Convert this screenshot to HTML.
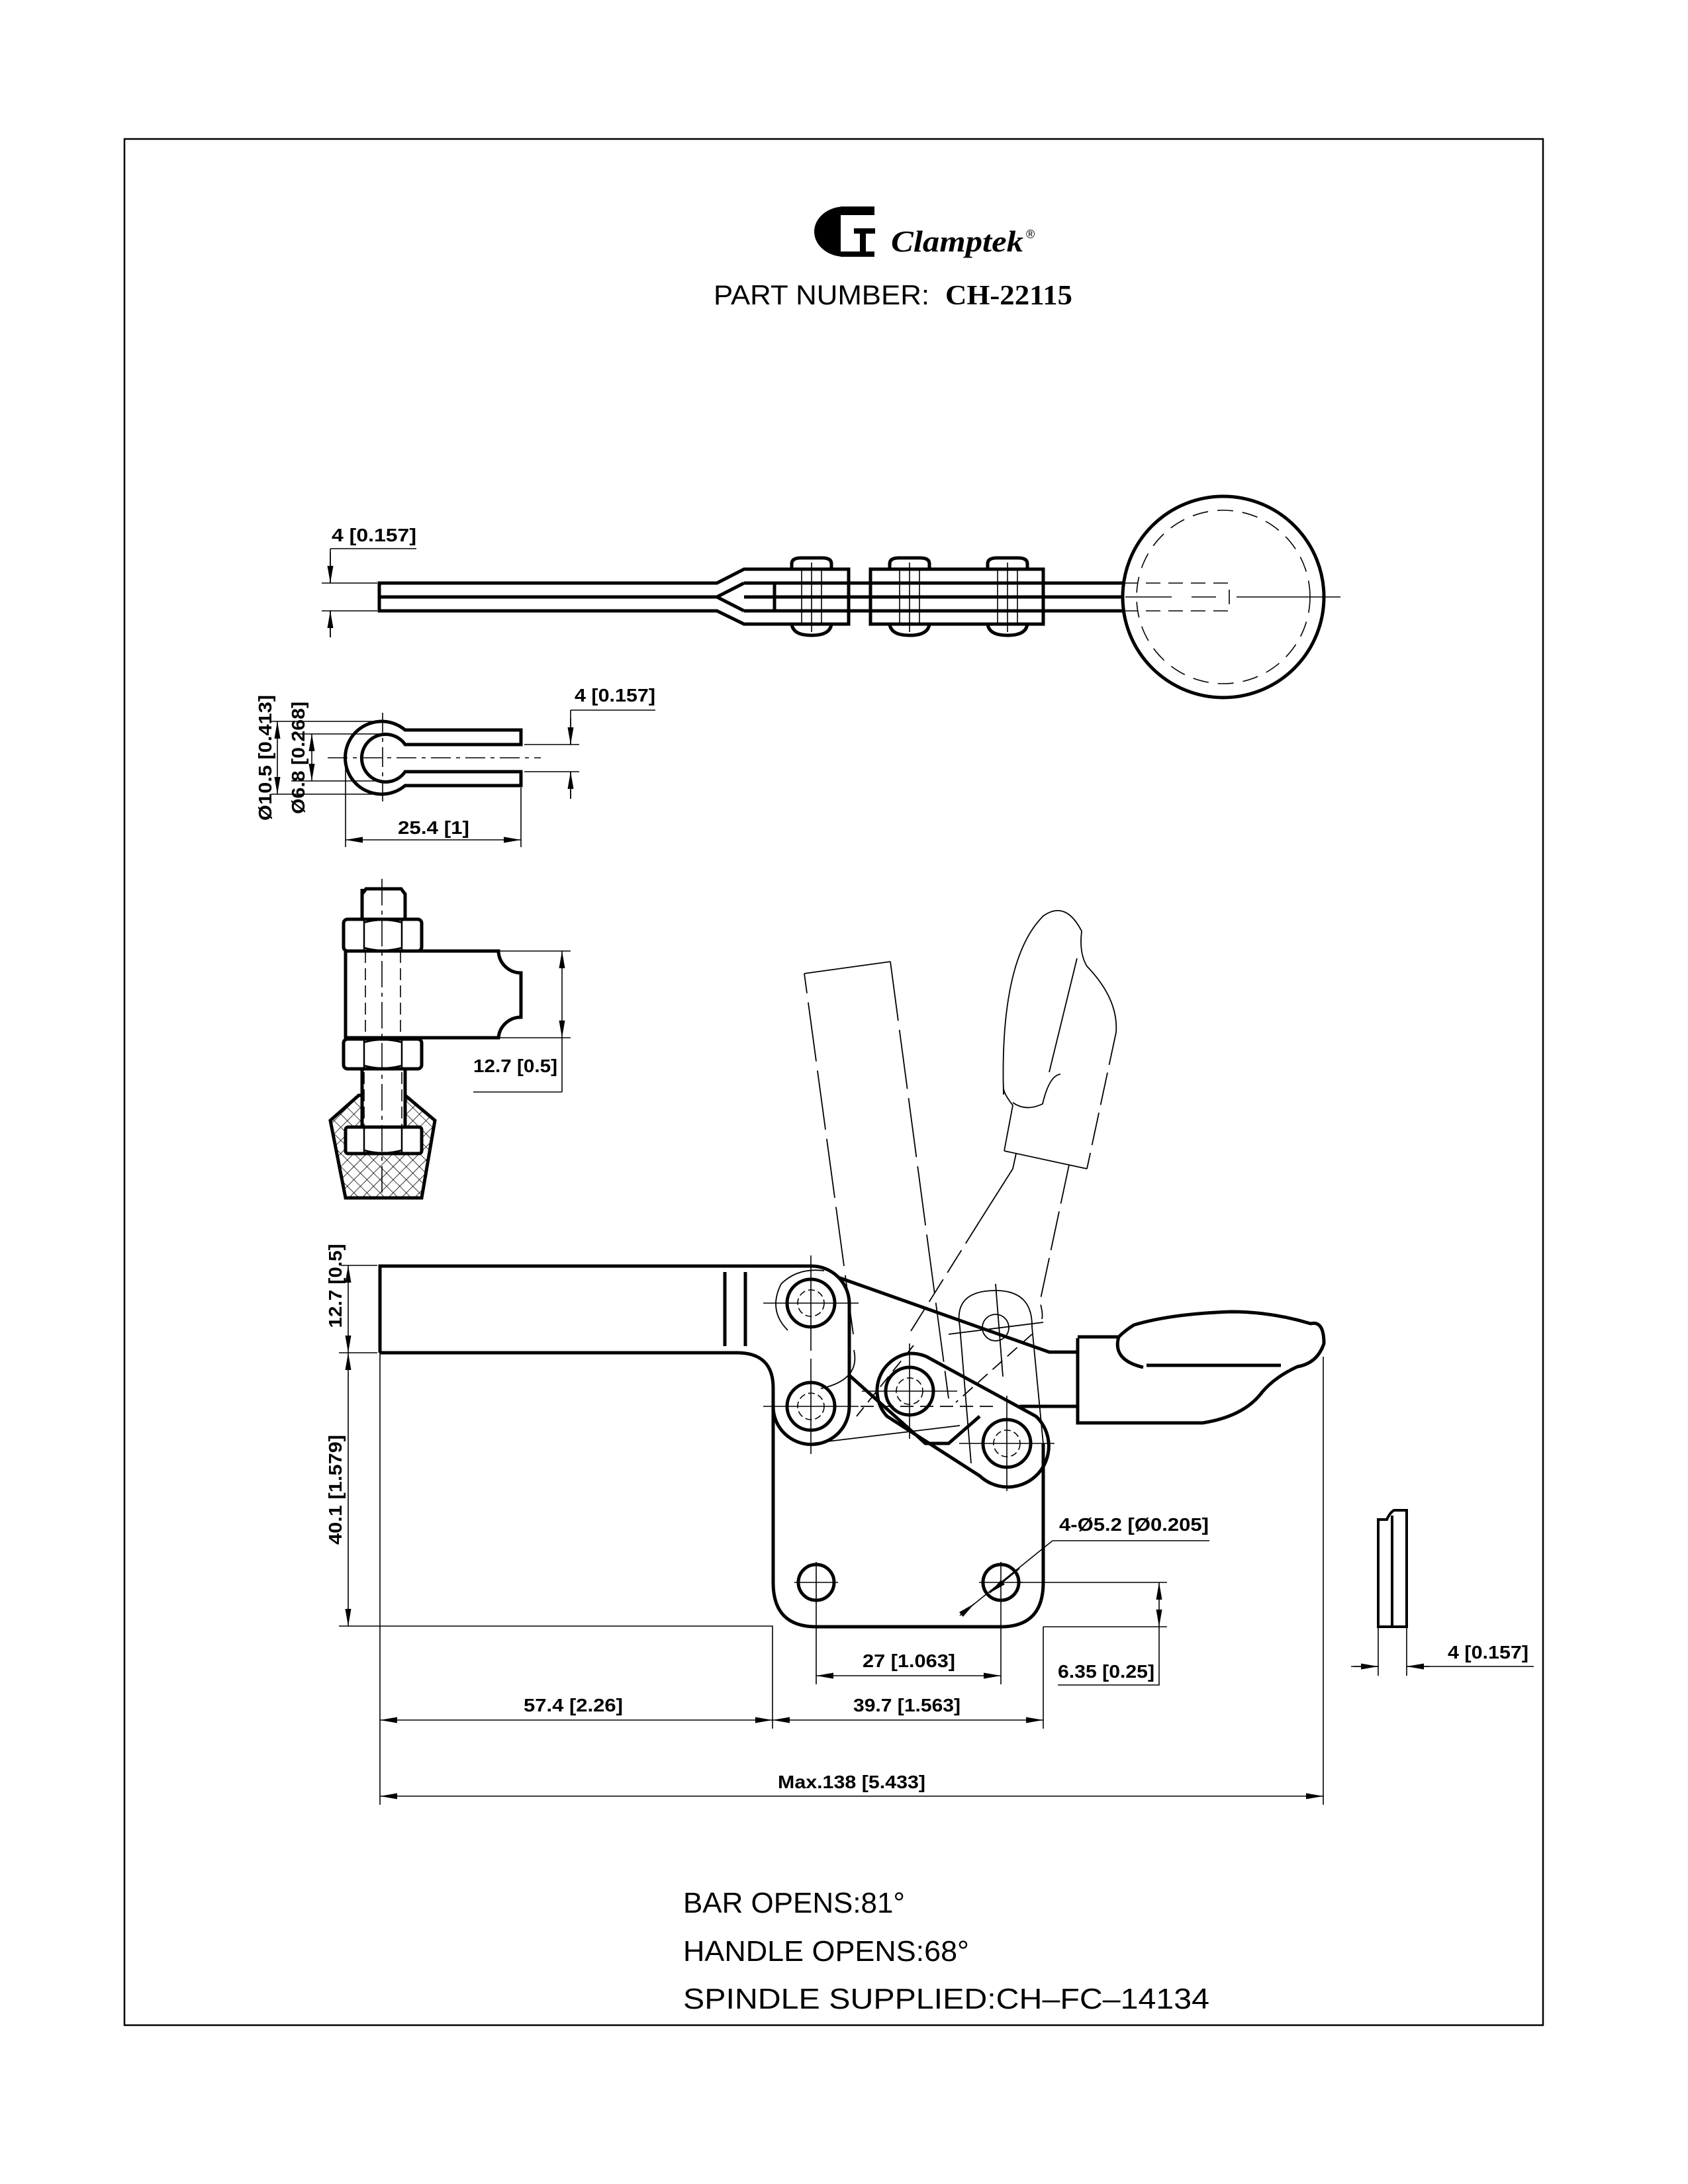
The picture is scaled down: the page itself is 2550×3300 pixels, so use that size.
<!DOCTYPE html>
<html><head><meta charset="utf-8"><style>html,body{margin:0;padding:0;background:#fff}svg{display:block}</style></head>
<body>
<svg xmlns="http://www.w3.org/2000/svg" width="2550" height="3300" viewBox="0 0 2550 3300">
<defs>
<marker id="a" viewBox="0 0 10 10" refX="10" refY="5" markerWidth="26" markerHeight="9" markerUnits="userSpaceOnUse" orient="auto-start-reverse" preserveAspectRatio="none"><path d="M0,0 L10,5 L0,10z" fill="#000"/></marker>
<pattern id="h" width="14" height="14" patternUnits="userSpaceOnUse" patternTransform="rotate(45)"><path d="M0,0 H14 M0,0 V14" stroke="#000" stroke-width="1.6"/></pattern>
</defs>
<rect width="2550" height="3300" fill="#fff"/>
<rect x="188" y="210" width="2143" height="2850" fill="none" stroke="#000" stroke-width="2.5"/>

<!-- logo -->
<ellipse cx="1276" cy="350" rx="46" ry="38" fill="#000"/>
<rect x="1270" y="325" width="56" height="55" fill="#fff"/>
<rect x="1270" y="312" width="51" height="13" fill="#000"/>
<rect x="1270" y="380" width="51" height="8" fill="#000"/>
<rect x="1290" y="345" width="32" height="8" fill="#000"/>
<rect x="1299" y="352" width="9" height="28" fill="#000"/>
<text x="1346" y="380" font-family="Liberation Serif, serif" font-weight="bold" font-style="italic" font-size="46" textLength="200" lengthAdjust="spacingAndGlyphs">Clamptek</text>
<text x="1550" y="360" font-family="Liberation Sans, sans-serif" font-size="18">®</text>
<text x="1078" y="460" font-family="Liberation Sans, sans-serif" font-size="42" textLength="326" lengthAdjust="spacingAndGlyphs">PART NUMBER:</text>
<text x="1428" y="460" font-family="Liberation Serif, serif" font-weight="bold" font-size="42" textLength="192" lengthAdjust="spacingAndGlyphs">CH-22115</text>

<g font-family="Liberation Sans, sans-serif" font-weight="bold" font-size="28" fill="#000">
<!-- TOP VIEW -->
<g stroke="#000" fill="none">
<g stroke-width="5">
<path d="M573,881 H1083 L1124,860 H1282 V943 H1124 L1083,923 H573 Z"/>
<path d="M573,902 H1083 L1124,881 M1083,902 L1124,923"/>
<path d="M1124,881 H1697 M1124,902 H1697 M1124,923 H1697"/>
<path d="M1170,881 V923"/>
<path d="M1315,860 H1576 V943 H1315 Z"/>
<path d="M1196,860 V852 Q1196,843 1210,843 H1242 Q1256,843 1256,852 V860 M1196,943 Q1198,960 1226,960 Q1254,960 1256,943"/>
<path d="M1344,860 V852 Q1344,843 1358,843 H1390 Q1404,843 1404,852 V860 M1344,943 Q1346,960 1374,960 Q1402,960 1404,943"/>
<path d="M1492,860 V852 Q1492,843 1506,843 H1538 Q1552,843 1552,852 V860 M1492,943 Q1494,960 1522,960 Q1550,960 1552,943"/>
<circle cx="1848" cy="902" r="152"/>
</g>
<g stroke-width="1.6">
<path d="M1211,860 V943 M1241,860 V943 M1359,860 V943 M1389,860 V943 M1507,860 V943 M1537,860 V943"/>
<path d="M1226,850 V955 M1374,850 V955 M1522,850 V955"/>
<circle cx="1848" cy="902" r="131" stroke-dasharray="24,14"/>
<path d="M1697,881 H1857 V923 H1697" stroke-dasharray="22,12"/>
<path d="M1700,902 H1770 M1800,902 H1837 M1868,902 H2025"/>
<path d="M486,881 H570 M486,923 H570 M499,829 V881 M499,923 V963 M499,829 H629"/>
<path d="M499,835 V881" marker-end="url(#a)"/>
<path d="M499,963 V923" marker-end="url(#a)"/>
</g>
</g>
<text x="501" y="818" textLength="128" lengthAdjust="spacingAndGlyphs">4 [0.157]</text>

<!-- CLIP VIEW -->
<g stroke="#000" fill="none">
<path d="M612,1103 A55,55 0 1 0 612,1187 H787 V1166 H612 A36,36 0 1 1 612,1125 H787 V1103 Z" stroke-width="5"/>
<g stroke-width="1.6">
<path d="M495,1145 H817" stroke-dasharray="30,8,6,8"/>
<path d="M578,1077 V1215" stroke-dasharray="30,8,6,8"/>
<path d="M410,1090 H578 M440,1109 H578 M440,1180 H578 M410,1200 H578"/>
<path d="M419,1145 V1090" marker-end="url(#a)"/><path d="M419,1145 V1200" marker-end="url(#a)"/>
<path d="M471,1145 V1109" marker-end="url(#a)"/><path d="M471,1145 V1180" marker-end="url(#a)"/>
<path d="M522,1145 V1280 M787,1190 V1280"/>
<path d="M655,1269 H522" marker-end="url(#a)"/><path d="M655,1269 H787" marker-end="url(#a)"/>
<path d="M792,1125 H875 M792,1166 H875 M862,1073 H990 M862,1073 V1125 M862,1166 V1207"/>
<path d="M862,1085 V1125" marker-end="url(#a)"/><path d="M862,1207 V1166" marker-end="url(#a)"/>
</g>
</g>
<text transform="translate(410,1145) rotate(-90)" text-anchor="middle" textLength="190" lengthAdjust="spacingAndGlyphs">Ø10.5 [0.413]</text>
<text transform="translate(460,1145) rotate(-90)" text-anchor="middle" textLength="170" lengthAdjust="spacingAndGlyphs">Ø6.8 [0.268]</text>
<text x="655" y="1260" text-anchor="middle" textLength="108" lengthAdjust="spacingAndGlyphs">25.4 [1]</text>
<text x="868" y="1060" textLength="122" lengthAdjust="spacingAndGlyphs">4 [0.157]</text>

<!-- SPINDLE VIEW -->
<polygon points="542,1655 499,1693 522,1810 637,1810 657,1693 612,1655" fill="url(#h)" stroke="#000" stroke-width="5"/>
<g stroke="#000" fill="#fff" stroke-width="5">
<rect x="547" y="1615" width="65" height="90"/>
<path d="M547,1343 V1351 L553,1343 H606 L612,1351 V1389 H547 Z"/>
<path d="M522,1437 H753 A34,34 0 0 0 787,1470 V1537 A34,34 0 0 0 753,1568 H522 Z" fill="#fff"/>
<rect x="519" y="1389" width="118" height="48" rx="6"/>
<rect x="519" y="1570" width="118" height="45" rx="6"/>
<rect x="522" y="1703" width="115" height="40" rx="4"/>
</g>
<g stroke="#000" fill="none" stroke-width="2.5">
<path d="M550,1389 V1437 M607,1389 V1437 M550,1570 V1615 M607,1570 V1615 M550,1703 V1743 M607,1703 V1743"/>
<path d="M550,1394 Q578,1386 607,1394 M550,1432 Q578,1440 607,1432 M550,1575 Q578,1567 607,1575 M550,1610 Q578,1618 607,1610 M550,1738 Q578,1746 607,1738"/>
</g>
<g stroke="#000" fill="none" stroke-width="1.6">
<path d="M552,1437 V1568 M605,1437 V1568 M550,1620 V1703 M607,1620 V1703" stroke-dasharray="18,8"/>
<path d="M577,1328 V1812" stroke-dasharray="40,8,6,8"/>
<path d="M753,1437 H862 M753,1568 H862 M715,1650 H849 M849,1568 V1650"/>
<path d="M849,1500 V1437" marker-end="url(#a)"/><path d="M849,1500 V1568" marker-end="url(#a)"/>
</g>
<text x="715" y="1620" textLength="127" lengthAdjust="spacingAndGlyphs">12.7 [0.5]</text>

<!-- MAIN SIDE VIEW : phantom (thin) -->
<g stroke="#000" fill="none" stroke-width="1.8">
<path d="M1215,1471 L1345,1453"/>
<path d="M1289,2016 L1215,1471 M1345,1453 L1433,2113" stroke-dasharray="90,14"/>
<path d="M1516,1654 Q1510,1450 1576,1384 Q1610,1360 1634,1407 Q1630,1440 1642,1460 Q1690,1510 1686,1560 M1517,1739 L1530,1670 Q1514,1650 1516,1640 M1642,1766 L1517,1739"/>
<path d="M1686,1560 L1642,1766" stroke-dasharray="50,12"/>
<path d="M1530,1666 Q1550,1680 1575,1668 Q1585,1625 1602,1623 M1585,1620 L1627,1448"/>
<path d="M1535,1743 L1530,1766 L1480,1845" />
<path d="M1480,1845 L1373,2016" stroke-dasharray="40,12"/>
<path d="M1615,1760 L1571,1967 Q1576,1985 1574,1993" stroke-dasharray="60,12"/>
<path d="M1450,2005 Q1440,1950 1504,1950 Q1560,1950 1559,2005 L1576,2182 M1450,2005 L1467,2211"/>
<circle cx="1504" cy="2006" r="20"/>
<path d="M1433,2016 L1576,1998 M1504,1940 L1515,2080"/>
<path d="M1225,2181 L1450,2154 M1240,2098 Q1300,2085 1290,2040 M1190,2010 Q1160,1980 1180,1940 Q1205,1915 1245,1920"/>
<path d="M1559,2016 L1444,2119 M1380,2033 L1294,2140 M1300,2125 H1500" stroke-dasharray="20,10"/>
</g>

<!-- main bold outlines -->
<g stroke="#000" fill="none" stroke-width="5">
<path d="M574,2044 V1913 H1226 A57,57 0 0 1 1283,1969 V2125 A57,57 0 0 1 1168,2125"/>
<path d="M574,2044 H1113 Q1168,2044 1168,2097 V2391 Q1168,2458 1233,2458 H1512 Q1576,2458 1576,2391 V2181"/>
<path d="M1095,1922 V2034 M1126,1922 V2034"/>
<path d="M1266,1930 L1585,2043 H1628"/>
<path d="M1628,2022 V2150 H1817 Q1880,2140 1907,2103 Q1927,2080 1960,2065 Q1990,2060 2000,2030 Q2000,1995 1980,2000 Q1920,1982 1860,1982 Q1770,1985 1713,2002 Q1700,2010 1690,2020 H1628"/>
<path d="M1690,2020 Q1680,2055 1727,2066 M1732,2063 H1935"/>
<path d="M1540,2125 H1628"/>
<path d="M1374,2045 A57,57 0 0 0 1340,2140 L1480,2230 A57,57 0 0 0 1565,2140 L1400,2050 A57,57 0 0 0 1374,2045 Z"/>
<path d="M1284,2079 L1398,2181 H1433 L1480,2140"/>
<circle cx="1233" cy="2391" r="27"/><circle cx="1512" cy="2391" r="27"/>
</g>
<g stroke="#000" fill="none">
<g stroke-width="5">
<circle cx="1225" cy="1969" r="36"/><circle cx="1225" cy="2125" r="36"/>
<circle cx="1374" cy="2102" r="36"/><circle cx="1521" cy="2181" r="36"/>
</g>
<g stroke-width="1.6">
<circle cx="1225" cy="1969" r="20" stroke-dasharray="10,5"/><circle cx="1225" cy="2125" r="20" stroke-dasharray="10,5"/>
<circle cx="1374" cy="2102" r="20" stroke-dasharray="10,5"/><circle cx="1521" cy="2181" r="20" stroke-dasharray="10,5"/>
<path d="M1153,1969 H1297 M1225,1897 V2041 M1153,2125 H1297 M1225,2053 V2197 M1302,2102 H1446 M1374,2030 V2174 M1449,2181 H1593 M1521,2109 V2253"/>
<path d="M1200,2391 H1266 M1233,2360 V2458 M1479,2391 H1545 M1512,2360 V2458"/>
</g>
</g>

<!-- dims main -->
<g stroke="#000" fill="none" stroke-width="1.6">
<path d="M515,1912 H570 M512,2044 H570 M512,2457 H1168"/>
<path d="M526,1978 V1912" marker-end="url(#a)"/><path d="M526,1978 V2044" marker-end="url(#a)"/>
<path d="M526,2250 V2044" marker-end="url(#a)"/><path d="M526,2250 V2457" marker-end="url(#a)"/>
<path d="M574,2044 V2727 M1167,2458 V2612 M1576,2458 V2612 M1233,2458 V2545 M1512,2458 V2545 M1999,2050 V2727"/>
<path d="M870,2599 H574" marker-end="url(#a)"/><path d="M870,2599 H1167" marker-end="url(#a)"/>
<path d="M1370,2599 H1167" marker-end="url(#a)"/><path d="M1370,2599 H1576" marker-end="url(#a)"/>
<path d="M1373,2532 H1233" marker-end="url(#a)"/><path d="M1373,2532 H1512" marker-end="url(#a)"/>
<path d="M1290,2714 H574" marker-end="url(#a)"/><path d="M1290,2714 H1999" marker-end="url(#a)"/>
<path d="M1540,2391 H1763 M1576,2458 H1763 M1751,2458 V2546 H1598"/>
<path d="M1751,2420 V2391" marker-end="url(#a)"/><path d="M1751,2420 V2458" marker-end="url(#a)"/>
<path d="M1460,2433 L1590,2328 H1827"/>
<path d="M1540,2370 L1495,2407" marker-end="url(#a)"/><path d="M1472,2423 L1450,2441" marker-start="url(#a)"/>
<path d="M2082,2458 V2532 M2125,2458 V2532 M2041,2518 H2082 M2125,2518 H2317"/>
<path d="M2045,2518 H2082" marker-end="url(#a)"/><path d="M2160,2518 H2125" marker-end="url(#a)"/>
</g>
<g stroke="#000" fill="none" stroke-width="4">
<path d="M2082,2458 V2296 H2095 Q2100,2285 2106,2282 H2125 V2458 Z M2103,2290 V2458"/>
</g>
<text transform="translate(516,1943) rotate(-90)" text-anchor="middle" textLength="127" lengthAdjust="spacingAndGlyphs">12.7 [0.5]</text>
<text transform="translate(516,2251) rotate(-90)" text-anchor="middle" textLength="166" lengthAdjust="spacingAndGlyphs">40.1 [1.579]</text>
<text x="1600" y="2313" textLength="226" lengthAdjust="spacingAndGlyphs">4-Ø5.2 [Ø0.205]</text>
<text x="1598" y="2535" textLength="146" lengthAdjust="spacingAndGlyphs">6.35 [0.25]</text>
<text x="1373" y="2519" text-anchor="middle" textLength="140" lengthAdjust="spacingAndGlyphs">27 [1.063]</text>
<text x="1370" y="2586" text-anchor="middle" textLength="162" lengthAdjust="spacingAndGlyphs">39.7 [1.563]</text>
<text x="866" y="2586" text-anchor="middle" textLength="150" lengthAdjust="spacingAndGlyphs">57.4 [2.26]</text>
<text x="1175" y="2702" textLength="223" lengthAdjust="spacingAndGlyphs">Max.138 [5.433]</text>
<text x="2187" y="2506" textLength="122" lengthAdjust="spacingAndGlyphs">4 [0.157]</text>
</g>

<g font-family="Liberation Sans, sans-serif" font-size="44" fill="#000">
<text x="1032" y="2890" textLength="335" lengthAdjust="spacingAndGlyphs">BAR  OPENS:81°</text>
<text x="1032" y="2963" textLength="432" lengthAdjust="spacingAndGlyphs">HANDLE  OPENS:68°</text>
<text x="1032" y="3035" textLength="795" lengthAdjust="spacingAndGlyphs">SPINDLE  SUPPLIED:CH–FC–14134</text>
</g>
</svg>
</body></html>
